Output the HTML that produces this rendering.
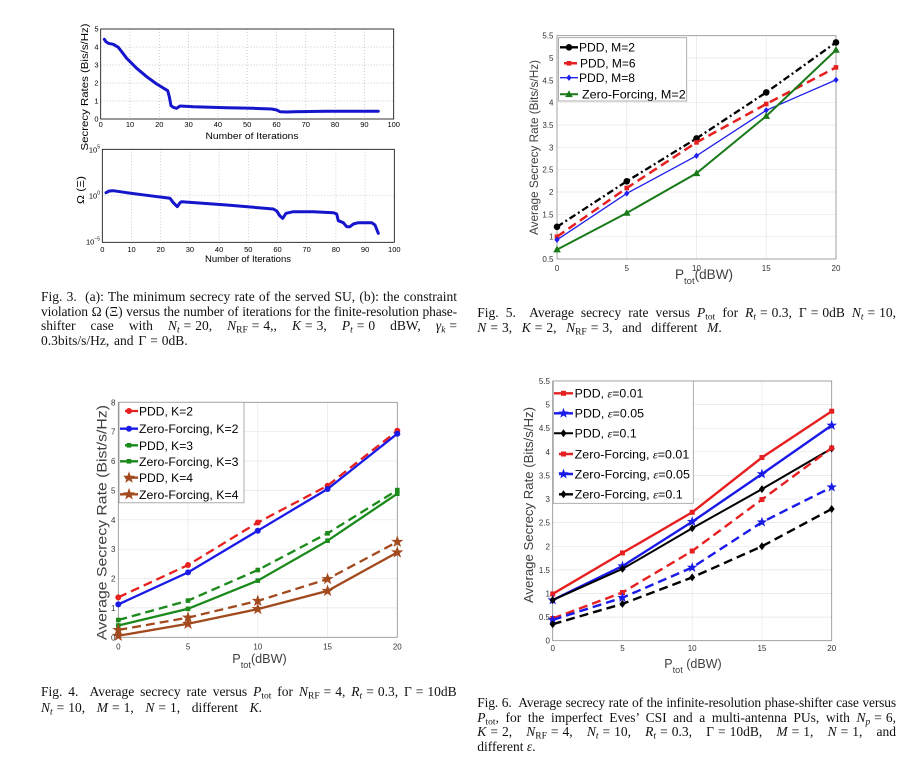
<!DOCTYPE html>
<html><head><meta charset="utf-8">
<style>
html,body{margin:0;padding:0;background:#fff;}
#wrap{position:relative;width:907px;height:757px;overflow:hidden;background:#fff;}
svg{display:block;position:absolute;left:0;top:0;}
.tk{font-family:"Liberation Sans",sans-serif;font-size:8px;fill:#333;}
.tk3{font-family:"Liberation Sans",sans-serif;font-size:7.5px;fill:#000;}
.lg{font-family:"Liberation Sans",sans-serif;font-size:12px;fill:#000;}
.al{font-family:"Liberation Sans",sans-serif;fill:#404040;}
.c{position:absolute;font-family:"Liberation Serif","DejaVu Serif",serif;font-size:13.5px;line-height:15px;height:15px;white-space:nowrap;color:#111;}
.j{text-align:justify;text-align-last:justify;}
.c i{font-style:italic;}
.c sub{font-size:9.5px;vertical-align:-2.5px;line-height:0;}
.eq{padding:0 4px;}
.eqe{padding-left:4px;}
</style></head>
<body>
<div id="wrap">
<svg width="907" height="757" viewBox="0 0 907 757" xmlns="http://www.w3.org/2000/svg">
<defs>
<marker id="m4r" markerUnits="userSpaceOnUse" markerWidth="14" markerHeight="14" viewBox="-7 -7 14 14" refX="0" refY="0"><circle r="3" fill="#e62020"/></marker>
<marker id="m4b" markerUnits="userSpaceOnUse" markerWidth="14" markerHeight="14" viewBox="-7 -7 14 14" refX="0" refY="0"><circle r="3" fill="#1a1ae8"/></marker>
<marker id="m4g" markerUnits="userSpaceOnUse" markerWidth="14" markerHeight="14" viewBox="-7 -7 14 14" refX="0" refY="0"><rect x="-2.3" y="-2.3" width="4.6" height="4.6" fill="#1b8a1b"/></marker>
<marker id="m4n" markerUnits="userSpaceOnUse" markerWidth="14" markerHeight="14" viewBox="-7 -7 14 14" refX="0" refY="0"><path d="M0,-5.5L1.29,-1.78L5.23,-1.7L2.09,0.68L3.23,4.45L0,2.2L-3.23,4.45L-2.09,0.68L-5.23,-1.7L-1.29,-1.78Z" fill="#a24a1e" stroke="#a24a1e" stroke-width="0.6"/></marker>
<marker id="m5k" markerUnits="userSpaceOnUse" markerWidth="14" markerHeight="14" viewBox="-7 -7 14 14" refX="0" refY="0"><circle r="3.3" fill="#000"/></marker>
<marker id="m5r" markerUnits="userSpaceOnUse" markerWidth="14" markerHeight="14" viewBox="-7 -7 14 14" refX="0" refY="0"><rect x="-2.3" y="-2.3" width="4.6" height="4.6" fill="#e62020"/></marker>
<marker id="m5b" markerUnits="userSpaceOnUse" markerWidth="14" markerHeight="14" viewBox="-7 -7 14 14" refX="0" refY="0"><path d="M0,-3.2L2.6,0L0,3.2L-2.6,0Z" fill="#2020ee"/></marker>
<marker id="m5g" markerUnits="userSpaceOnUse" markerWidth="14" markerHeight="14" viewBox="-7 -7 14 14" refX="0" refY="0"><path d="M0,-4L3.8,2.8L-3.8,2.8Z" fill="#1a7a1a"/></marker>
<marker id="m6r" markerUnits="userSpaceOnUse" markerWidth="14" markerHeight="14" viewBox="-7 -7 14 14" refX="0" refY="0"><rect x="-2.5" y="-2.5" width="5" height="5" fill="#e62020"/></marker>
<marker id="m6b" markerUnits="userSpaceOnUse" markerWidth="14" markerHeight="14" viewBox="-7 -7 14 14" refX="0" refY="0"><path d="M0,-5.5L1.29,-1.78L5.23,-1.7L2.09,0.68L3.23,4.45L0,2.2L-3.23,4.45L-2.09,0.68L-5.23,-1.7L-1.29,-1.78Z" fill="#1a1ae8"/></marker>
<marker id="m6k" markerUnits="userSpaceOnUse" markerWidth="14" markerHeight="14" viewBox="-7 -7 14 14" refX="0" refY="0"><path d="M0,-4L3,0L0,4L-3,0Z" fill="#000"/></marker>
</defs>
<rect width="907" height="757" fill="#fff"/>

<!-- ================= FIG 3 ================= -->
<g>
<path d="M130,29V119M159.3,29V119M188.6,29V119M217.9,29V119M247.2,29V119M276.5,29V119M305.8,29V119M335.1,29V119M364.4,29V119M100.7,101H393.7M100.7,83H393.7M100.7,65H393.7M100.7,47H393.7" stroke="#b8b8b8" stroke-width="0.7" stroke-dasharray="1,2" fill="none"/>
<rect x="100.7" y="29" width="293" height="90" fill="none" stroke="#000" stroke-width="0.8"/>
<polyline points="104.3,39.3 106,41.7 108.3,43.3 113.3,44.3 118.3,47.3 121.7,51.7 126.7,58.3 136.7,68.3 146.7,76.7 156.7,84 167.7,90.7 169.3,96.7 171,105.7 173.3,107.3 176.7,108.3 180,106 193.3,106.7 226.7,107.7 253.3,108.3 271.7,109 276.7,110 280,111.7 286.7,112 293.3,111.7 326.7,111.3 378.3,111.3" fill="none" stroke="#1515cc" stroke-width="3" stroke-linejoin="round" stroke-linecap="round"/>
<g class="tk3" text-anchor="end">
<text x="98.5" y="121.7">0</text><text x="98.5" y="103.7">1</text><text x="98.5" y="85.7">2</text><text x="98.5" y="67.7">3</text><text x="98.5" y="49.7">4</text><text x="98.5" y="31.7">5</text>
</g>
<g class="tk3" text-anchor="middle">
<text x="100.7" y="127">0</text><text x="130" y="127">10</text><text x="159.3" y="127">20</text><text x="188.6" y="127">30</text><text x="217.9" y="127">40</text><text x="247.2" y="127">50</text><text x="276.5" y="127">60</text><text x="305.8" y="127">70</text><text x="335.1" y="127">80</text><text x="364.4" y="127">90</text><text x="393.7" y="127">100</text>
</g>
<text x="252" y="139" text-anchor="middle" font-family="Liberation Sans, sans-serif" font-size="9.5" fill="#000" textLength="93" lengthAdjust="spacingAndGlyphs">Number of Iterations</text>
<text transform="translate(88,87) rotate(-90)" text-anchor="middle" font-family="Liberation Sans, sans-serif" font-size="10.5" fill="#000" textLength="127" lengthAdjust="spacingAndGlyphs">Secrecy Rates (Bis/s/Hz)</text>

<path d="M131.5,149.3V242.3M160.7,149.3V242.3M189.9,149.3V242.3M219.1,149.3V242.3M248.3,149.3V242.3M277.5,149.3V242.3M306.7,149.3V242.3M335.9,149.3V242.3M365.1,149.3V242.3M102.3,195.7H394.3" stroke="#b8b8b8" stroke-width="0.7" stroke-dasharray="1,2" fill="none"/>
<rect x="102.3" y="149.3" width="292" height="93" fill="none" stroke="#000" stroke-width="0.8"/>
<polyline points="106,192.7 109.3,191 113.3,190.7 126.7,192.7 146.7,195.3 170,198.3 173.3,202.7 177.3,206.7 180,202.7 181.7,201.7 226.7,205 273.3,209 276.7,211 280,216 282.7,218.3 286,213.3 293.3,211.7 313.3,211.7 333.3,212.7 336.7,214 338.3,220.7 343.3,222.7 346.7,226.7 350,226.7 353.3,224 358.3,222.7 371.7,222.7 375,225 378.3,233.3" fill="none" stroke="#1515cc" stroke-width="3" stroke-linejoin="round" stroke-linecap="round"/>
<g class="tk3" text-anchor="end">
<text x="100" y="152.5">10<tspan font-size="5" dy="-4">5</tspan></text>
<text x="100" y="198.5">10<tspan font-size="5" dy="-4">0</tspan></text>
<text x="100" y="244.5">10<tspan font-size="5" dy="-4">−5</tspan></text>
</g>
<g class="tk3" text-anchor="middle">
<text x="102.3" y="252">0</text><text x="131.5" y="252">10</text><text x="160.7" y="252">20</text><text x="189.9" y="252">30</text><text x="219.1" y="252">40</text><text x="248.3" y="252">50</text><text x="277.5" y="252">60</text><text x="306.7" y="252">70</text><text x="335.9" y="252">80</text><text x="365.1" y="252">90</text><text x="394.3" y="252">100</text>
</g>
<text x="248" y="262" text-anchor="middle" font-family="Liberation Sans, sans-serif" font-size="9.5" fill="#000" textLength="86" lengthAdjust="spacingAndGlyphs">Number of Iterations</text>
<text transform="translate(84,190) rotate(-90)" text-anchor="middle" font-family="Liberation Sans, sans-serif" font-size="10" fill="#000" textLength="28" lengthAdjust="spacingAndGlyphs">Ω (Ξ)</text>
</g>

<!-- ================= FIG 5 ================= -->
<g>
<path d="M626.75,35.7V259M696.5,35.7V259M766.25,35.7V259M557,236.7H836M557,214.3H836M557,192H836M557,169.7H836M557,147.3H836M557,125H836M557,102.7H836M557,80.3H836M557,58H836" stroke="#e6e6e6" stroke-width="0.7" fill="none"/>
<rect x="557" y="35.7" width="279" height="223.3" fill="none" stroke="#8a8a8a" stroke-width="0.8"/>
<polyline points="557,226.8 626.75,181.3 696.5,138.4 766.25,92.4 836,42.4" fill="none" stroke="#000" stroke-width="2.3" stroke-dasharray="7,3,2,3" marker-start="url(#m5k)" marker-mid="url(#m5k)" marker-end="url(#m5k)"/>
<polyline points="557,236.7 626.75,188.0 696.5,142.4 766.25,104.0 836,67.4" fill="none" stroke="#e62020" stroke-width="2.5" stroke-dasharray="9,5" marker-start="url(#m5r)" marker-mid="url(#m5r)" marker-end="url(#m5r)"/>
<polyline points="557,239.8 626.75,193.4 696.5,155.8 766.25,110.3 836,79.9" fill="none" stroke="#2020ee" stroke-width="1.3" marker-start="url(#m5b)" marker-mid="url(#m5b)" marker-end="url(#m5b)"/>
<polyline points="557,249.6 626.75,213.0 696.5,173.3 766.25,116.1 836,50.0" fill="none" stroke="#1a7a1a" stroke-width="2" marker-start="url(#m5g)" marker-mid="url(#m5g)" marker-end="url(#m5g)"/>
<g class="tk" text-anchor="end">
<text x="553.5" y="262">0.5</text><text x="553.5" y="239.7">1</text><text x="553.5" y="217.3">1.5</text><text x="553.5" y="195">2</text><text x="553.5" y="172.7">2.5</text><text x="553.5" y="150.3">3</text><text x="553.5" y="128">3.5</text><text x="553.5" y="105.7">4</text><text x="553.5" y="83.3">4.5</text><text x="553.5" y="61">5</text><text x="553.5" y="38.7">5.5</text>
</g>
<g class="tk" text-anchor="middle">
<text x="557" y="271">0</text><text x="626.75" y="271">5</text><text x="696.5" y="271">10</text><text x="766.25" y="271">15</text><text x="836" y="271">20</text>
</g>
<text class="al" x="675" y="279" font-size="13.5" textLength="58" lengthAdjust="spacingAndGlyphs">P<tspan font-size="9.5" dy="5">tot</tspan><tspan dy="-5">(dBW)</tspan></text>
<text class="al" transform="translate(538,147.5) rotate(-90)" text-anchor="middle" font-size="12" textLength="175" lengthAdjust="spacingAndGlyphs">Average Secrecy Rate (Bits/s/Hz)</text>
<rect x="558.5" y="37.7" width="128.2" height="63.3" fill="#fff" stroke="#999" stroke-width="0.8"/>
<polyline points="560,47.3 569,47.3 578,47.3" fill="none" stroke="#000" stroke-width="2.3" marker-mid="url(#m5k)"/>
<polyline points="560,63.3 569,63.3 578,63.3" fill="none" stroke="#e62020" stroke-width="2.5" stroke-dasharray="0,4,9" marker-mid="url(#m5r)"/>
<polyline points="560,77.7 569,77.7 578,77.7" fill="none" stroke="#2020ee" stroke-width="1.3" marker-mid="url(#m5b)"/>
<polyline points="560,94.3 569,94.3 578,94.3" fill="none" stroke="#1a7a1a" stroke-width="2" marker-mid="url(#m5g)"/>
<text class="lg" x="579" y="51.6" textLength="56" lengthAdjust="spacingAndGlyphs">PDD, M=2</text>
<text class="lg" x="580" y="67.6" textLength="55.5" lengthAdjust="spacingAndGlyphs">PDD, M=6</text>
<text class="lg" x="579" y="82" textLength="56" lengthAdjust="spacingAndGlyphs">PDD, M=8</text>
<text class="lg" x="582" y="98.6" textLength="103.7" lengthAdjust="spacingAndGlyphs">Zero-Forcing, M=2</text>
</g>

<!-- ================= FIG 4 ================= -->
<g>
<path d="M188.05,402.3V637.3M257.8,402.3V637.3M327.55,402.3V637.3M118.3,607.9H397.3M118.3,578.55H397.3M118.3,549.2H397.3M118.3,519.8H397.3M118.3,490.4H397.3M118.3,461.05H397.3M118.3,431.7H397.3" stroke="#e6e6e6" stroke-width="0.7" fill="none"/>
<rect x="118.3" y="402.3" width="279" height="235" fill="none" stroke="#8a8a8a" stroke-width="0.8"/>
<polyline points="118.3,597.35 188.05,565.0 257.8,522.5 327.55,485.7 397.3,430.8" fill="none" stroke="#e62020" stroke-width="2.3" stroke-dasharray="9,5" marker-start="url(#m4r)" marker-mid="url(#m4r)" marker-end="url(#m4r)"/>
<polyline points="118.3,604.4 188.05,572.4 257.8,530.7 327.55,489.0 397.3,433.7" fill="none" stroke="#1a1ae8" stroke-width="2.3" marker-start="url(#m4b)" marker-mid="url(#m4b)" marker-end="url(#m4b)"/>
<polyline points="118.3,620.0 188.05,600.6 257.8,570.0 327.55,533.3 397.3,490.1" fill="none" stroke="#1b8a1b" stroke-width="2.3" stroke-dasharray="9,5" marker-start="url(#m4g)" marker-mid="url(#m4g)" marker-end="url(#m4g)"/>
<polyline points="118.3,625.5 188.05,608.8 257.8,580.6 327.55,540.7 397.3,493.7" fill="none" stroke="#1b8a1b" stroke-width="2.3" marker-start="url(#m4g)" marker-mid="url(#m4g)" marker-end="url(#m4g)"/>
<polyline points="118.3,630.0 188.05,617.6 257.8,600.9 327.55,579.1 397.3,541.8" fill="none" stroke="#a24a1e" stroke-width="2.3" stroke-dasharray="9,5" marker-start="url(#m4n)" marker-mid="url(#m4n)" marker-end="url(#m4n)"/>
<polyline points="118.3,635.8 188.05,623.8 257.8,609.1 327.55,590.9 397.3,552.4" fill="none" stroke="#a24a1e" stroke-width="2.3" marker-start="url(#m4n)" marker-mid="url(#m4n)" marker-end="url(#m4n)"/>
<g class="tk" text-anchor="end">
<text x="115.5" y="640.3">0</text><text x="115.5" y="610.9">1</text><text x="115.5" y="581.5">2</text><text x="115.5" y="552.2">3</text><text x="115.5" y="522.8">4</text><text x="115.5" y="493.4">5</text><text x="115.5" y="464">6</text><text x="115.5" y="434.7">7</text><text x="115.5" y="405.3">8</text>
</g>
<g class="tk" text-anchor="middle">
<text x="118.3" y="649.5">0</text><text x="188.05" y="649.5">5</text><text x="257.8" y="649.5">10</text><text x="327.55" y="649.5">15</text><text x="397.3" y="649.5">20</text>
</g>
<text class="al" x="232.3" y="663" font-size="13" textLength="54.4" lengthAdjust="spacingAndGlyphs">P<tspan font-size="9.5" dy="5">tot</tspan><tspan dy="-5">(dBW)</tspan></text>
<text class="al" transform="translate(106.7,522.5) rotate(-90)" text-anchor="middle" font-size="14" textLength="235" lengthAdjust="spacingAndGlyphs">Average Secrecy Rate (Bist/s/Hz)</text>
<rect x="119" y="402.3" width="125" height="100.5" fill="#fff" stroke="#999" stroke-width="0.8"/>
<polyline points="120,411 129,411 138,411" fill="none" stroke="#e62020" stroke-width="2.3" stroke-dasharray="0,5,9" marker-mid="url(#m4r)"/>
<polyline points="120,428.7 129,428.7 138,428.7" fill="none" stroke="#1a1ae8" stroke-width="2.3" marker-mid="url(#m4b)"/>
<polyline points="120,445.3 129,445.3 138,445.3" fill="none" stroke="#1b8a1b" stroke-width="2.3" stroke-dasharray="0,5,9" marker-mid="url(#m4g)"/>
<polyline points="120,461.3 129,461.3 138,461.3" fill="none" stroke="#1b8a1b" stroke-width="2.3" marker-mid="url(#m4g)"/>
<polyline points="120,477.7 129,477.7 138,477.7" fill="none" stroke="#a24a1e" stroke-width="2.3" stroke-dasharray="0,5,9" marker-mid="url(#m4n)"/>
<polyline points="120,494.3 129,494.3 138,494.3" fill="none" stroke="#a24a1e" stroke-width="2.3" marker-mid="url(#m4n)"/>
<g class="lg" font-size="12.5">
<text x="139" y="415.5" textLength="54" lengthAdjust="spacingAndGlyphs">PDD, K=2</text>
<text x="139" y="433.2" textLength="99.5" lengthAdjust="spacingAndGlyphs">Zero-Forcing, K=2</text>
<text x="139" y="449.8" textLength="54" lengthAdjust="spacingAndGlyphs">PDD, K=3</text>
<text x="139" y="465.8" textLength="99.5" lengthAdjust="spacingAndGlyphs">Zero-Forcing, K=3</text>
<text x="139" y="482.2" textLength="54" lengthAdjust="spacingAndGlyphs">PDD, K=4</text>
<text x="139" y="498.8" textLength="99.5" lengthAdjust="spacingAndGlyphs">Zero-Forcing, K=4</text>
</g>
</g>

<!-- ================= FIG 6 ================= -->
<g>
<path d="M622.45,381V640.7M692.2,381V640.7M761.95,381V640.7M552.7,617.1H831.7M552.7,593.5H831.7M552.7,569.9H831.7M552.7,546.3H831.7M552.7,522.65H831.7M552.7,499H831.7M552.7,475.4H831.7M552.7,451.8H831.7M552.7,428.2H831.7M552.7,404.6H831.7" stroke="#e6e6e6" stroke-width="0.7" fill="none"/>
<rect x="552.7" y="381" width="279" height="259.7" fill="none" stroke="#8a8a8a" stroke-width="0.8"/>
<polyline points="552.7,593.95 622.45,552.9 692.2,512.3 761.95,457.5 831.7,411.2" fill="none" stroke="#e62020" stroke-width="2.4" marker-start="url(#m6r)" marker-mid="url(#m6r)" marker-end="url(#m6r)"/>
<polyline points="552.7,600.1 622.45,566.1 692.2,521.7 761.95,474.0 831.7,425.4" fill="none" stroke="#1a1ae8" stroke-width="2.4" marker-start="url(#m6b)" marker-mid="url(#m6b)" marker-end="url(#m6b)"/>
<polyline points="552.7,600.1 622.45,568.9 692.2,528.3 761.95,489.1 831.7,448.5" fill="none" stroke="#000" stroke-width="2" marker-start="url(#m6k)" marker-mid="url(#m6k)" marker-end="url(#m6k)"/>
<polyline points="552.7,618.5 622.45,592.5 692.2,551.0 761.95,499.5 831.7,448.0" fill="none" stroke="#e62020" stroke-width="2.4" stroke-dasharray="9,5" marker-start="url(#m6r)" marker-mid="url(#m6r)" marker-end="url(#m6r)"/>
<polyline points="552.7,619.9 622.45,597.7 692.2,567.5 761.95,522.2 831.7,487.2" fill="none" stroke="#1a1ae8" stroke-width="2.4" stroke-dasharray="9,5" marker-start="url(#m6b)" marker-mid="url(#m6b)" marker-end="url(#m6b)"/>
<polyline points="552.7,624.2 622.45,603.9 692.2,577.4 761.95,546.3 831.7,509.0" fill="none" stroke="#000" stroke-width="2.4" stroke-dasharray="9,5" marker-start="url(#m6k)" marker-mid="url(#m6k)" marker-end="url(#m6k)"/>
<g class="tk" text-anchor="end">
<text x="550" y="643.7">0</text><text x="550" y="620.1">0.5</text><text x="550" y="596.5">1</text><text x="550" y="572.9">1.5</text><text x="550" y="549.3">2</text><text x="550" y="525.65">2.5</text><text x="550" y="502">3</text><text x="550" y="478.4">3.5</text><text x="550" y="454.8">4</text><text x="550" y="431.2">4.5</text><text x="550" y="407.6">5</text><text x="550" y="384">5.5</text>
</g>
<g class="tk" text-anchor="middle">
<text x="552.7" y="651">0</text><text x="622.45" y="651">5</text><text x="692.2" y="651">10</text><text x="761.95" y="651">15</text><text x="831.7" y="651">20</text>
</g>
<text class="al" x="664.3" y="668" font-size="13" textLength="57.4" lengthAdjust="spacingAndGlyphs">P<tspan font-size="9.5" dy="5">tot</tspan><tspan dy="-5"> (dBW)</tspan></text>
<text class="al" transform="translate(533,505) rotate(-90)" text-anchor="middle" font-size="13" textLength="196" lengthAdjust="spacingAndGlyphs">Average Secrecy Rate (Bits/s/Hz)</text>
<rect x="553.3" y="381" width="140" height="122.3" fill="#fff" stroke="#999" stroke-width="0.8"/>
<polyline points="554,393.3 563.5,393.3 573,393.3" fill="none" stroke="#e62020" stroke-width="2.4" marker-mid="url(#m6r)"/>
<polyline points="554,413.3 563.5,413.3 573,413.3" fill="none" stroke="#1a1ae8" stroke-width="2.4" marker-mid="url(#m6b)"/>
<polyline points="554,433.3 563.5,433.3 573,433.3" fill="none" stroke="#000" stroke-width="2" marker-mid="url(#m6k)"/>
<polyline points="554,454 563.5,454 573,454" fill="none" stroke="#e62020" stroke-width="2.4" stroke-dasharray="0,5,9" marker-mid="url(#m6r)"/>
<polyline points="554,474 563.5,474 573,474" fill="none" stroke="#1a1ae8" stroke-width="2.4" stroke-dasharray="0,5,9" marker-mid="url(#m6b)"/>
<polyline points="554,494.3 563.5,494.3 573,494.3" fill="none" stroke="#000" stroke-width="2.4" stroke-dasharray="0,5,9" marker-mid="url(#m6k)"/>
<g class="lg">
<text x="574.7" y="397.6" textLength="68.6" lengthAdjust="spacingAndGlyphs">PDD, <tspan font-family="Liberation Serif, serif" font-style="italic">ε</tspan>=0.01</text>
<text x="574.7" y="417.6" textLength="69.3" lengthAdjust="spacingAndGlyphs">PDD, <tspan font-family="Liberation Serif, serif" font-style="italic">ε</tspan>=0.05</text>
<text x="574.7" y="437.6" textLength="62" lengthAdjust="spacingAndGlyphs">PDD, <tspan font-family="Liberation Serif, serif" font-style="italic">ε</tspan>=0.1</text>
<text x="574.7" y="458.3" textLength="114.6" lengthAdjust="spacingAndGlyphs">Zero-Forcing, <tspan font-family="Liberation Serif, serif" font-style="italic">ε</tspan>=0.01</text>
<text x="574.7" y="478.3" textLength="115.3" lengthAdjust="spacingAndGlyphs">Zero-Forcing, <tspan font-family="Liberation Serif, serif" font-style="italic">ε</tspan>=0.05</text>
<text x="574.7" y="498.6" textLength="108" lengthAdjust="spacingAndGlyphs">Zero-Forcing, <tspan font-family="Liberation Serif, serif" font-style="italic">ε</tspan>=0.1</text>
</g>
</g>
</svg>

<!-- ================= CAPTIONS ================= -->
<div class="c j" style="left:41px;top:288.8px;width:416px;">Fig. 3.&nbsp; (a): The minimum secrecy rate of the served SU, (b): the constraint</div>
<div class="c j" style="left:41px;top:303.6px;width:416px;letter-spacing:-0.12px;">violation Ω (Ξ) versus the number of iterations for the finite-resolution phase-</div>
<div class="c j" style="left:41px;top:318.4px;width:416px;">shifter case with <i>N</i><sub><i>t</i></sub><span class="eq">=</span>20, <i>N</i><sub>RF</sub><span class="eq">=</span>4,, <i>K</i><span class="eq">=</span>3, <i>P</i><sub><i>t</i></sub><span class="eq">=</span>0 dBW, <i>γ</i><sub><i>k</i></sub><span class="eqe">=</span></div>
<div class="c j" style="left:41px;top:333.1px;width:146.7px;">0.3bits/s/Hz, and Γ<span class="eq">=</span>0dB.</div>

<div class="c j" style="left:477.3px;top:305.1px;width:418.7px;">Fig. 5.&nbsp; Average secrecy rate versus <i>P</i><sub>tot</sub> for <i>R</i><sub><i>t</i></sub><span class="eq">=</span>0.3, Γ<span class="eq">=</span>0dB <i>N</i><sub><i>t</i></sub><span class="eq">=</span>10,</div>
<div class="c j" style="left:477.3px;top:319.6px;width:244.4px;"><i>N</i><span class="eq">=</span>3, <i>K</i><span class="eq">=</span>2, <i>N</i><sub>RF</sub><span class="eq">=</span>3, and different <i>M</i>.</div>

<div class="c j" style="left:41px;top:683.6px;width:415.7px;">Fig. 4.&nbsp; Average secrecy rate versus <i>P</i><sub>tot</sub> for <i>N</i><sub>RF</sub><span class="eq">=</span>4, <i>R</i><sub><i>t</i></sub><span class="eq">=</span>0.3, Γ<span class="eq">=</span>10dB</div>
<div class="c j" style="left:41px;top:699.6px;width:221px;"><i>N</i><sub><i>t</i></sub><span class="eq">=</span>10, <i>M</i><span class="eq">=</span>1, <i>N</i><span class="eq">=</span>1, different <i>K</i>.</div>

<div class="c j" style="left:477.3px;top:694.6px;width:418.7px;letter-spacing:-0.15px;">Fig. 6.&nbsp; Average secrecy rate of the infinite-resolution phase-shifter case versus</div>
<div class="c j" style="left:477.3px;top:709.6px;width:418.7px;"><i>P</i><sub>tot</sub>, for the imperfect Eves’ CSI and a multi-antenna PUs, with <i>N</i><sub><i>p</i></sub><span class="eq">=</span>6,</div>
<div class="c j" style="left:477.3px;top:724.1px;width:418.7px;"><i>K</i><span class="eq">=</span>2, <i>N</i><sub>RF</sub><span class="eq">=</span>4, <i>N</i><sub><i>t</i></sub><span class="eq">=</span>10, <i>R</i><sub><i>t</i></sub><span class="eq">=</span>0.3, Γ<span class="eq">=</span>10dB, <i>M</i><span class="eq">=</span>1, <i>N</i><span class="eq">=</span>1, and</div>
<div class="c" style="left:477.3px;top:738.6px;">different <i>ε</i>.</div>
</div>
</body></html>
